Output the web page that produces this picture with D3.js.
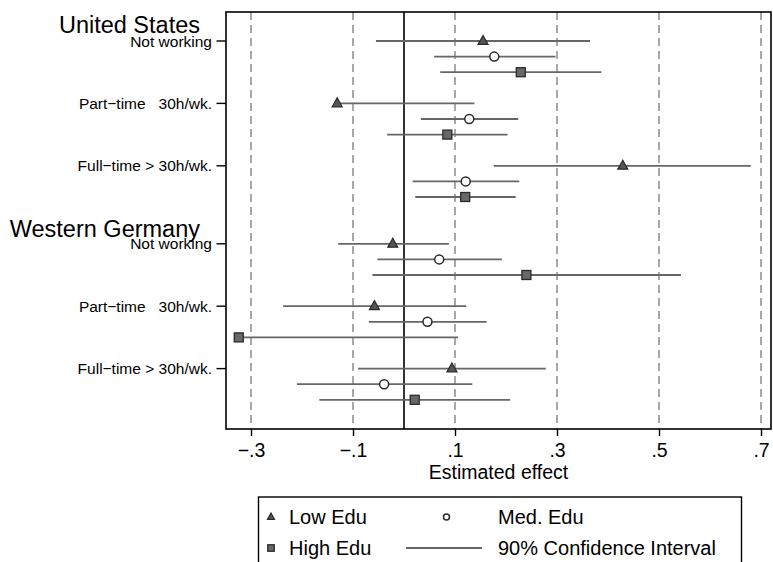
<!DOCTYPE html>
<html>
<head>
<meta charset="utf-8">
<script src="https://cdn.jsdelivr.net/npm/d3@7"></script>
<style>
  html, body { margin: 0; padding: 0; background: #fff; }
  svg { display: block; font-family: "Liberation Sans", Arial, Helvetica, sans-serif; }
  text { white-space: pre; }
</style>
</head>
<body>
<svg id="chart" width="773" height="562"></svg>
<script>
// ---------- data ----------
const groups = ["United States", "Western Germany"];
const rowLabels = ["Not working", "Part\u2212time   30h/wk.", "Full\u2212time > 30h/wk."];
const xTicks = [-0.3, -0.1, 0.1, 0.3, 0.5, 0.7];
const seriesNames = ["Low Edu", "Med. Edu", "High Edu"];
const ciLabel = "90% Confidence Interval";
const xTitle = "Estimated effect";

// order: US Not working, US Part-time, US Full-time, WG Not working, WG Part-time, WG Full-time
const lowEst  = [0.155, -0.131, 0.429, -0.022, -0.058, 0.094];
const lowLo   = [-0.055, null, 0.176, -0.129, -0.237, -0.090];
const lowHi   = [0.365, 0.138, 0.680, 0.088, 0.122, 0.278];
const medEst  = [0.177, 0.128, 0.121, 0.069, 0.046, -0.039];
const medLo   = [0.059, 0.033, 0.017, -0.052, -0.069, -0.210];
const medHi   = [0.297, 0.224, 0.226, 0.192, 0.162, 0.134];
const highEst = [0.229, 0.085, 0.120, 0.240, -0.324, 0.021];
const highLo  = [0.071, -0.033, 0.022, -0.062, null, -0.166];
const highHi  = [0.387, 0.203, 0.219, 0.543, 0.106, 0.208];

// ---------- layout ----------
const svg = d3.select("#chart");
const plot = { left: 226, right: 771, top: 12, bottom: 429 };

const x = d3.scaleLinear().domain([-0.3, 0.7]).range([251, 761]);
// slot positions: each category takes 4 slots, groups separated by one extra slot
const slotOf = (g, r, s) => g * 13 + r * 4 + s;
const y = d3.scaleLinear().domain([0, 23]).range([41, 399.8]);

// dashed reference grid lines at ticks
svg.append("g").selectAll("line").data(xTicks).join("line")
  .attr("x1", d => x(d)).attr("x2", d => x(d))
  .attr("y1", plot.top).attr("y2", plot.bottom)
  .attr("stroke", "#a8a8a8").attr("stroke-width", 2)
  .attr("stroke-dasharray", "8,5");

// zero line
svg.append("line")
  .attr("x1", x(0)).attr("x2", x(0))
  .attr("y1", plot.top).attr("y2", plot.bottom)
  .attr("stroke", "#333").attr("stroke-width", 2);

// frame
svg.append("rect")
  .attr("x", plot.left).attr("y", plot.top)
  .attr("width", plot.right - plot.left).attr("height", plot.bottom - plot.top)
  .attr("fill", "none").attr("stroke", "#000").attr("stroke-width", 1.6);

// x axis
const xAxis = d3.axisBottom(x).tickValues(xTicks).tickSize(7).tickPadding(6)
  .tickFormat(d => (d < 0 ? "\u2212" : "") + d3.format(".1f")(Math.abs(d)).replace(/^0/, ""));
const gx = svg.append("g").attr("transform", `translate(0,${plot.bottom})`).call(xAxis);
gx.select(".domain").remove();
gx.selectAll(".tick line").attr("stroke", "#000").attr("stroke-width", 1.4);
gx.selectAll(".tick text").attr("fill", "#000").attr("font-size", "19.5px")
  .attr("font-family", "Liberation Sans, Arial, sans-serif").attr("dy", null).attr("y", 28);

svg.append("text").attr("x", (plot.left + plot.right) / 2).attr("y", 479)
  .attr("text-anchor", "middle").attr("font-size", "19.5px").attr("fill", "#000")
  .text(xTitle);

// y tick marks and labels
const rowsData = [];
groups.forEach((g, gi) => rowLabels.forEach((r, ri) => rowsData.push({ g: gi, r: ri, label: r })));
const yt = svg.append("g");
yt.selectAll("line").data(rowsData).join("line")
  .attr("x1", 216.5).attr("x2", plot.left)
  .attr("y1", d => y(slotOf(d.g, d.r, 0))).attr("y2", d => y(slotOf(d.g, d.r, 0)))
  .attr("stroke", "#000").attr("stroke-width", 1.4);
yt.selectAll("text").data(rowsData).join("text")
  .attr("x", 212).attr("y", d => y(slotOf(d.g, d.r, 0)) + 5.5)
  .attr("text-anchor", "end").attr("font-size", "15.5px").attr("fill", "#000")
  .text(d => d.label);

// group labels
svg.append("g").selectAll("text").data(groups).join("text")
  .attr("x", 200).attr("y", (d, i) => i === 0 ? 33 : 236.5)
  .attr("text-anchor", "end").attr("font-size", "23.5px").attr("fill", "#000")
  .text(d => d);

// ---------- series ----------
const series = [
  { name: seriesNames[0], est: lowEst, lo: lowLo, hi: lowHi, shape: "tri" },
  { name: seriesNames[1], est: medEst, lo: medLo, hi: medHi, shape: "circ" },
  { name: seriesNames[2], est: highEst, lo: highLo, hi: highHi, shape: "sq" }
];

function drawMarker(sel, shape, cx, cy, size) {
  if (shape === "tri") {
    const h = size * 0.9, w = size;
    sel.append("path")
      .attr("d", `M${cx},${cy - h * 0.62} L${cx + w / 2},${cy + h * 0.38} L${cx - w / 2},${cy + h * 0.38} Z`)
      .attr("fill", "#555").attr("stroke", "#2a2a2a").attr("stroke-width", 1.2);
  } else if (shape === "circ") {
    sel.append("circle").attr("cx", cx).attr("cy", cy).attr("r", size / 2)
      .attr("fill", "#fff").attr("stroke", "#2a2a2a").attr("stroke-width", 1.5);
  } else {
    sel.append("rect").attr("x", cx - size / 2).attr("y", cy - size / 2)
      .attr("width", size).attr("height", size)
      .attr("fill", "#686868").attr("stroke", "#2a2a2a").attr("stroke-width", 1.3);
  }
}

const gm = svg.append("g");
series.forEach((s, si) => {
  s.est.forEach((v, i) => {
    const gi = Math.floor(i / 3), ri = i % 3;
    const cy = y(slotOf(gi, ri, si));
    const lo = s.lo[i] == null ? v : s.lo[i];
    gm.append("line")
      .attr("x1", x(lo)).attr("x2", x(s.hi[i]))
      .attr("y1", cy).attr("y2", cy)
      .attr("stroke", "#666").attr("stroke-width", 1.8);
  });
});
series.forEach((s, si) => {
  s.est.forEach((v, i) => {
    const gi = Math.floor(i / 3), ri = i % 3;
    drawMarker(gm, s.shape, x(v), y(slotOf(gi, ri, si)), s.shape === "tri" ? 10 : 9);
  });
});

// ---------- legend ----------
const lg = svg.append("g");
lg.append("rect").attr("x", 258.5).attr("y", 497).attr("width", 483).attr("height", 90)
  .attr("fill", "#fff").attr("stroke", "#000").attr("stroke-width", 1.4);
const row1 = 517, row2 = 548;
drawMarker(lg, "tri", 271, row1, 7);
lg.append("text").attr("x", 289).attr("y", row1 + 7).attr("font-size", "20px").text(seriesNames[0]);
drawMarker(lg, "circ", 446.5, row1, 6);
lg.append("text").attr("x", 498).attr("y", row1 + 7).attr("font-size", "20px").text(seriesNames[1]);
drawMarker(lg, "sq", 271, row2, 6.5);
lg.append("text").attr("x", 289).attr("y", row2 + 7).attr("font-size", "20px").text(seriesNames[2]);
lg.append("line").attr("x1", 406).attr("x2", 482).attr("y1", row2).attr("y2", row2)
  .attr("stroke", "#666").attr("stroke-width", 1.8);
lg.append("text").attr("x", 498).attr("y", row2 + 7).attr("font-size", "20px").text(ciLabel);
</script>
</body>
</html>
